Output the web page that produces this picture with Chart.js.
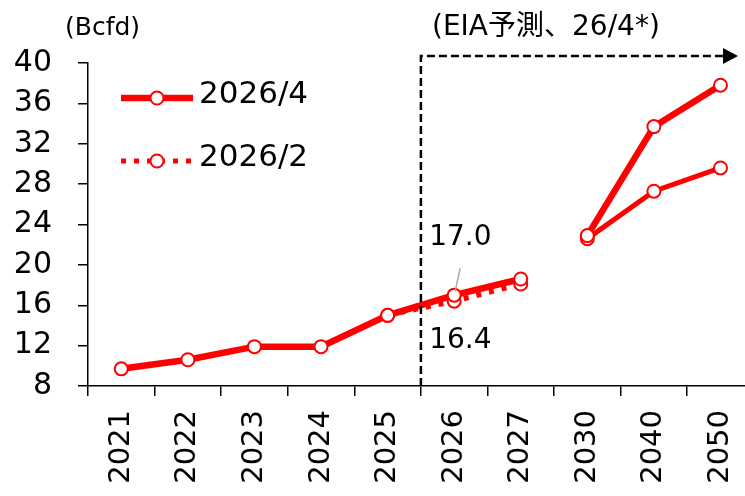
<!DOCTYPE html>
<html>
<head>
<meta charset="utf-8">
<script src="https://cdn.jsdelivr.net/npm/chart.js@4"></script>
<style>
  html, body { margin: 0; padding: 0; background: #fff; overflow: hidden; }
  #wrap { width: 770px; height: 496px; }
</style>
</head>
<body>
<div id="wrap"><canvas id="chart" width="770" height="496"></canvas></div>
<script>
//-------------------- DATA --------------------
const categories = ['2021', '2022', '2023', '2024', '2025', '2026', '2027', '2030', '2040', '2050'];
const apr2026 = [9.7, 10.6, 11.9, 11.9, 15.0, 17.0, 18.6, 22.9, 33.7, 37.8];
const feb2026 = [null, null, null, null, 15.0, 16.4, 18.1, 22.6, 27.3, 29.6];
const yTicks = { min: 8, max: 40, step: 4 };

const RED = '#ff0000';
const FONT = "'DejaVu Sans', 'Noto Sans CJK JP', sans-serif";

// no line across the 2027 -> 2030 jump
const gapColor = ctx => ctx.p0DataIndex === 6 ? 'rgba(0,0,0,0)' : RED;

//-------------------- EXTRA DRAWING --------------------
const extras = {
    id: 'extras',
    afterDraw(chart) {
        const c = chart.ctx;
        const x = chart.scales.x, y = chart.scales.y;
        const top = y.getPixelForValue(40) - 7;
        const bottom = y.bottom;
        const vx = (x.getPixelForValue(4) + x.getPixelForValue(5)) / 2;

        c.save();
        // forecast bracket
        c.strokeStyle = '#000';
        c.lineWidth = 2.5;
        c.setLineDash([8, 4]);
        c.beginPath();
        c.moveTo(vx, bottom);
        c.lineTo(vx, top);
        c.lineTo(724, top);
        c.stroke();
        c.setLineDash([]);
        c.fillStyle = '#000';
        c.beginPath();
        c.moveTo(723, top - 8);
        c.lineTo(738, top);
        c.lineTo(723, top + 8);
        c.closePath();
        c.fill();

        // titles
        c.textBaseline = 'middle';
        c.textAlign = 'left';
        c.font = '25px ' + FONT;
        c.fillText('(Bcfd)', 65, 28);
        c.font = '28px ' + FONT;
        c.fillText('(EIA予測、26/4*)', 432, 28);

        // value labels for 2026
        const px = x.getPixelForValue(5);
        const pa = y.getPixelForValue(apr2026[5]);
        const pf = y.getPixelForValue(feb2026[5]);
        c.font = '28px ' + FONT;
        c.fillText(apr2026[5].toFixed(1), px - 25, pa - 57);
        c.fillText(feb2026[5].toFixed(1), px - 25, pf + 40);
        c.strokeStyle = '#aaaaaa';
        c.lineWidth = 1.5;
        c.beginPath();
        c.moveTo(px + 6, pa - 27);
        c.lineTo(px + 1, pa - 4);
        c.stroke();

        // legend
        const items = [
            { label: '2026/4', y: 98, dash: [], w: 6.5 },
            { label: '2026/2', y: 161, dash: [5, 8], w: 5 }
        ];
        items.forEach(it => {
            c.strokeStyle = RED;
            c.lineWidth = it.w;
            c.setLineDash(it.dash);
            c.beginPath();
            c.moveTo(121, it.y);
            c.lineTo(193, it.y);
            c.stroke();
            c.setLineDash([]);
            c.fillStyle = '#fff';
            c.lineWidth = 2;
            c.beginPath();
            c.arc(157, it.y, 6.5, 0, Math.PI * 2);
            c.fill();
            c.stroke();
            c.fillStyle = '#000';
            c.font = '31px ' + FONT;
            c.fillText(it.label, 199, it.y - 3);
        });
        c.restore();
    }
};

//-------------------- CONFIG --------------------
const config = {
    type: 'line',
    data: {
        labels: categories,
        datasets: [{
            label: '2026/4',
            data: apr2026,
            borderColor: RED,
            borderWidth: 6.5,
            pointRadius: 6.5,
            pointBorderWidth: 2,
            pointBackgroundColor: '#fff',
            pointBorderColor: RED,
            segment: { borderColor: gapColor }
        }, {
            label: '2026/2',
            data: feb2026,
            borderColor: RED,
            borderWidth: 5,
            pointRadius: 6.5,
            pointBorderWidth: 2,
            pointBackgroundColor: '#fff',
            pointBorderColor: RED,
            segment: {
                borderColor: gapColor,
                borderDash: ctx => ctx.p0DataIndex >= 7 ? [] : [5, 8]
            }
        }]
    },
    options: {
        responsive: false,
        animation: false,
        layout: { padding: { left: 0, top: 63, right: 14, bottom: 0 } },
        plugins: { legend: { display: false }, tooltip: { enabled: false } },
        scales: {
            x: {
                offset: true,
                grid: { offset: true, drawOnChartArea: false, drawTicks: true, tickLength: 10, color: '#000', lineWidth: 1.5 },
                border: { color: '#000', width: 1.5 },
                ticks: { color: '#000', font: { family: FONT, size: 29 }, minRotation: 90, maxRotation: 90, padding: 14 },
                afterFit: s => { s.height = 110; }
            },
            y: {
                min: yTicks.min,
                max: yTicks.max,
                grid: { drawOnChartArea: false, drawTicks: true, tickLength: 10, color: '#000', lineWidth: 1.5 },
                border: { color: '#000', width: 1.5 },
                ticks: { stepSize: yTicks.step, color: '#000', font: { family: FONT, size: 30 }, padding: 26 },
                afterFit: s => { s.width = 88; }
            }
        }
    },
    plugins: [extras]
};

const myChart = new Chart(document.getElementById('chart'), config);
</script>
</body>
</html>
